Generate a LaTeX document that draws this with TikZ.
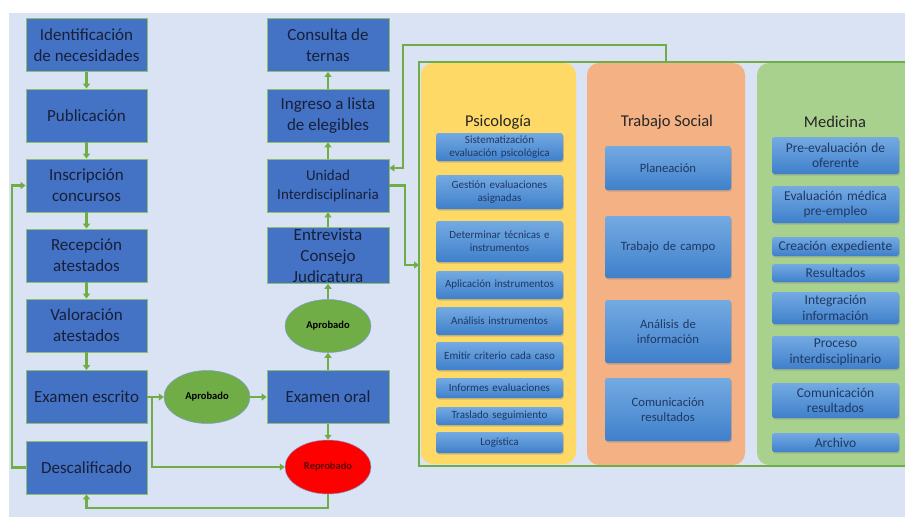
\documentclass[tikz,border=0pt]{standalone}
\usepackage{fontspec}
\setmainfont{Carlito}
\usetikzlibrary{arrows.meta,shadows,calc,shapes.geometric}

\definecolor{bgblue}{HTML}{DAE3F3}
\definecolor{boxblue}{HTML}{4472C4}
\definecolor{boxedge}{HTML}{8DC06E}
\definecolor{flow}{HTML}{70AD47}
\definecolor{txtdark}{HTML}{17203A}
\definecolor{psyfill}{HTML}{FFD966}
\definecolor{tsfill}{HTML}{F4B183}
\definecolor{medfill}{HTML}{A9D18E}
\definecolor{itop}{HTML}{74AAE2}
\definecolor{ibot}{HTML}{3F80CB}
\definecolor{itxt}{HTML}{1F3864}
\definecolor{okgreen}{HTML}{70AD47}
\definecolor{failred}{HTML}{FF0000}
\definecolor{failtxt}{HTML}{5A0A0A}

\tikzset{
  mainbox/.style={draw=boxedge, line width=0.8pt, fill=boxblue, text=txtdark,
    minimum width=121pt, minimum height=53pt, align=center, inner sep=1pt,
    font=\fontsize{17}{21}\selectfont},
  decision/.style={ellipse, draw=boxblue!70, line width=0.5pt,
    minimum width=86pt, minimum height=53pt, inner sep=0pt,
    font=\fontsize{10.5}{12}\selectfont\bfseries},
  flowline/.style={draw=flow, line width=2.2pt},
  arr/.style={flowline, -{Triangle[width=7pt,length=5pt]}},
  panel/.style={rounded corners=12pt, draw=none},
  ptitle/.style={font=\fontsize{16.5}{19}\selectfont, text=black!85},
  ibox/.style={rounded corners=2.5pt, top color=itop, bottom color=ibot, draw=none,
    text=itxt, align=center, inner sep=1pt,
    drop shadow={shadow xshift=0.8pt, shadow yshift=-1.5pt, opacity=0.35}},
  psy/.style={ibox, minimum width=125pt, text width=125pt, font=\fontsize{11}{12.5}\selectfont},
  tsb/.style={ibox, minimum width=126pt, text width=124pt, font=\fontsize{12.7}{15.5}\selectfont},
  medb/.style={ibox, minimum width=125pt, text width=125pt, font=\fontsize{13.5}{15.5}\selectfont},
}

\begin{document}
\begin{tikzpicture}[x=1pt, y=-1pt]
\useasboundingbox (0,0) rectangle (905,517);
\clip (0,0) rectangle (905,517);
\fill[bgblue] (9,13) rectangle (905,517);

% process column on the left
\node[mainbox] (idn) at (86.5,45) {Identificación\\de necesidades};
\node[mainbox] (pub) at (86.5,115.5) {Publicación};
\node[mainbox] (ins) at (86.5,185.5) {Inscripción\\concursos};
\node[mainbox] (rec) at (86.5,255.5) {Recepción\\atestados};
\node[mainbox] (val) at (86.5,325.5) {Valoración\\atestados};
\node[mainbox] (esc) at (86.5,397) {Examen escrito};
\node[mainbox] (des) at (86.5,467.5) {Descalificado};

% process column in the middle
\node[mainbox, minimum width=122pt] (con) at (328,45) {Consulta de\\ternas};
\node[mainbox, minimum width=122pt] (ing) at (328,115.5) {Ingreso a lista\\de elegibles};
\node[mainbox, minimum width=122pt, font=\fontsize{15}{19}\selectfont] (uni) at (328,185.5) {Unidad\\Interdisciplinaria};
\node[mainbox, minimum width=122pt] (ent) at (328,255.5) {Entrevista\\Consejo\\Judicatura};
\node[mainbox, minimum width=122pt] (ora) at (328,397) {Examen oral};

% decisions
\node[decision, fill=okgreen] (apa) at (207,397) {Aprobado};
\node[decision, fill=okgreen] (apb) at (328,326) {Aprobado};
\node[decision, fill=failred, text=failtxt, minimum height=54pt] (rep) at (328,467) {Reprobado};

% connectors of the flow
\draw[arr] (idn) -- (pub);
\draw[arr] (pub) -- (ins);
\draw[arr] (ins) -- (rec);
\draw[arr] (rec) -- (val);
\draw[arr] (val) -- (esc);
\draw[arr] (esc) -- (apa);
\coordinate (split) at (152,397);
\draw[arr] (split) |- (rep.west);
\draw[arr] (apa) -- (ora);
\draw[arr] (ora) -- (apb);
\draw[arr] (apb) -- (ent);
\draw[arr] (ent) -- (uni);
\draw[arr] (uni) -- (ing);
\draw[arr] (ing) -- (con);
\draw[arr] (ora) -- (rep);
\coordinate (retlow) at (328,508);
\draw[arr] (rep.south) -- (retlow) -| (des.south);
\coordinate (retleft) at (12,467.5);
\draw[arr] (des.west) -- (retleft) |- (ins.west);

% discipline panels
\fill[panel, psyfill] (421,63) rectangle (576,464);
\fill[panel, tsfill] (587,63) rectangle (745,465);
\fill[panel, medfill] (757,63) rectangle (930,465);

\node[ptitle] (tpsy) at (498,122) {Psicología};
\node[ptitle] (tts) at (667,122) {Trabajo Social};
\node[ptitle] (tmed) at (835,122) {Medicina};

\node[psy, minimum height=28pt] (p1) at (499.5,147) {Sistematización\\evaluación psicológica};
\node[psy, minimum height=34pt] (p2) at (499.5,192) {Gestión evaluaciones\\asignadas};
\node[psy, minimum height=41pt] (p3) at (499.5,241.5) {Determinar técnicas e\\instrumentos};
\node[psy, minimum height=28pt] (p4) at (499.5,285) {Aplicación instrumentos};
\node[psy, minimum height=28pt] (p5) at (499.5,321) {Análisis instrumentos};
\node[psy, minimum height=28pt] (p6) at (499.5,356) {Emitir criterio cada caso};
\node[psy, minimum height=20pt] (p7) at (499.5,388) {Informes evaluaciones};
\node[psy, minimum height=18pt] (p8) at (499.5,416) {Traslado seguimiento};
\node[psy, minimum height=21pt] (p9) at (499.5,442.5) {Logística};

\node[tsb, minimum height=44pt] (t1) at (668,168) {Planeación};
\node[tsb, minimum height=62pt] (t2) at (668,247) {Trabajo de campo};
\node[tsb, minimum height=63pt] (t3) at (668,331.5) {Análisis de\\información};
\node[tsb, minimum height=63pt] (t4) at (668,409.5) {Comunicación\\resultados};

\node[medb, minimum height=37pt] (m1) at (835.5,155.5) {Pre-evaluación de\\oferente};
\node[medb, minimum height=37pt] (m2) at (835.5,204.5) {Evaluación médica\\pre-empleo};
\node[medb, minimum height=19pt] (m3) at (835.5,246.5) {Creación expediente};
\node[medb, minimum height=18pt] (m4) at (835.5,273) {Resultados};
\node[medb, minimum height=32pt] (m5) at (835.5,308) {Integración\\información};
\node[medb, minimum height=33pt] (m6) at (835.5,352.5) {Proceso\\interdisciplinario};
\node[medb, minimum height=35pt] (m7) at (835.5,400.5) {Comunicación\\resultados};
\node[medb, minimum height=19pt] (m8) at (835.5,442.5) {Archivo};

% frame around the interdisciplinary unit and its links
\coordinate (fnw) at (419,62);
\coordinate (fse) at (930,466);
\draw[flowline, line width=2pt] (fnw) rectangle (fse);
\coordinate (ftop) at (666,62);
\draw[arr] (ftop) -- (666,45) -- (403,45) -- (403,168) -- ($(uni.east)+(0,-17.5)$);
\coordinate (fleft) at (419,265);
\draw[arr] (uni.east) -- (405,185.5) |- (fleft);
\end{tikzpicture}
\end{document}
